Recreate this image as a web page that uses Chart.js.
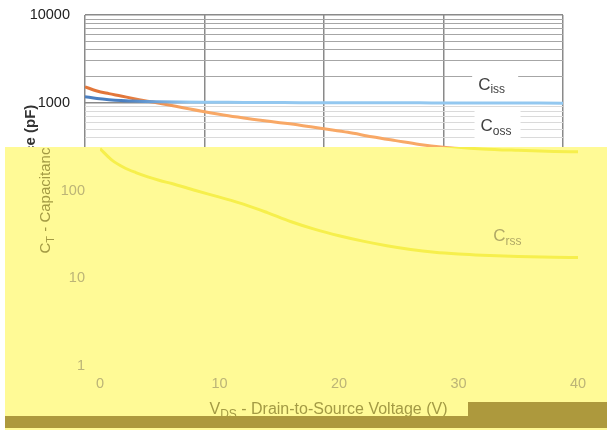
<!DOCTYPE html>
<html>
<head>
<meta charset="utf-8">
<script src="https://cdn.jsdelivr.net/npm/chart.js@4.4.1/dist/chart.umd.min.js"></script>
<style>
  body { margin: 0; width: 607px; height: 430px; overflow: hidden; position: relative; background: #fff; }
  #yellow { position: absolute; left: 5px; top: 147px; width: 602px; height: 283px; background: #fffa96; }
  #lowChart { position: absolute; left: 15px; top: 0; }
  #top { position: absolute; left: 0; top: 0; width: 607px; height: 147px; overflow: hidden; background: #fff; }
  .band { position: absolute; background: #ad993d; }
</style>
</head>
<body>
<div id="yellow"></div>
<canvas id="lowChart" width="607" height="430"></canvas>
<div id="top"><canvas id="topChart" width="607" height="430"></canvas></div>
<div class="band" style="left:5px;top:416px;width:602px;height:12px"></div>
<div class="band" style="left:468px;top:402px;width:139px;height:14px"></div>
<script>
// drain-source voltage (V) and capacitances (pF)
const voltage = [0, 1, 2, 3, 4, 5, 6, 8, 10, 12, 14, 16, 18, 20, 22, 24, 26, 28, 30, 32, 35, 38, 40];
const ciss = [1170, 1120, 1085, 1060, 1045, 1035, 1028, 1020, 1015, 1011, 1008, 1005, 1003, 1001, 1000, 999, 998, 997, 996, 995, 993, 991, 990];
const coss = [1520, 1360, 1270, 1195, 1120, 1055, 1000, 890, 790, 710, 650, 600, 555, 505, 460, 410, 370, 335, 312, 298, 287, 279, 276];
const crss = [300, 222, 183, 160, 143, 130, 120, 100, 84, 70, 56, 44, 36, 30.5, 26.5, 23.5, 21.3, 19.8, 18.9, 18.3, 17.7, 17.3, 17.2];

const yLabels = [1, 10, 100, 1000, 10000];
const xTicks = [0, 10, 20, 30, 40];
const seriesNames = [['C', 'iss'], ['C', 'oss'], ['C', 'rss']];
const labelAt = [[32.9, 1600], [33.1, 540], [32.9, 30]];

// gridlines at every 1..9 of each decade
const yGrid = [];
yLabels.slice(0, -1).forEach(d => { for (let m = 1; m < 10; m++) yGrid.push(d * m); });
yGrid.push(10000);

const FONT = 'Liberation Sans, Arial, sans-serif';

function fade(dark, light) {
  return ctx => {
    const a = ctx.chart.chartArea;
    if (!a) return light;
    const g = ctx.chart.ctx.createLinearGradient(a.left, 0, a.right, 0);
    g.addColorStop(0, dark);
    g.addColorStop(0.08, dark);
    g.addColorStop(0.22, light);
    g.addColorStop(1, light);
    return g;
  };
}

// text with subscripts: parts = [[text, isSub], ...]
function drawRich(ctx, parts, x, y, size, color, weight, align) {
  ctx.save();
  ctx.fillStyle = color;
  ctx.textBaseline = 'middle';
  ctx.textAlign = 'left';
  const fonts = parts.map(p => `${weight} ${p[1] ? Math.round(size * 0.72) : size}px ${FONT}`);
  let w = 0;
  parts.forEach((p, i) => { ctx.font = fonts[i]; w += ctx.measureText(p[0]).width; });
  let cx = align === 'center' ? x - w / 2 : x;
  parts.forEach((p, i) => {
    ctx.font = fonts[i];
    ctx.fillText(p[0], cx, p[1] ? y + size * 0.3 : y);
    cx += ctx.measureText(p[0]).width;
  });
  ctx.restore();
  return w;
}

function makeChart(id, look) {
  const textPlugin = {
    id: 'texts',
    beforeDatasetsDraw(chart) {
      if (!look.boxes) return;
      const { x, y } = chart.scales;
      const ctx = chart.ctx;
      ctx.save();
      ctx.fillStyle = '#fff';
      labelAt.slice(0, 2).forEach(p => {
        ctx.fillRect(x.getPixelForValue(p[0]) - 6, y.getPixelForValue(p[1]) - 18, 46, 36);
      });
      ctx.restore();
    },
    afterDraw(chart) {
      const { x, y } = chart.scales;
      const ctx = chart.ctx;
      const area = chart.chartArea;
      // axis titles
      ctx.save();
      ctx.translate(y.left + 31, (area.top + area.bottom) / 2 - 10);
      ctx.rotate(-Math.PI / 2);
      drawRich(ctx, [['C'], ['T', true], [' - Capacitance (pF)']], 0, 0, 15, look.title, look.titleWeight, 'center');
      ctx.restore();
      drawRich(ctx, [['V'], ['DS', true], [' - Drain-to-Source Voltage (V)']],
        chart.width / 2 + 10, x.bottom - 20, 16, look.title, 'normal', 'center');
      // curve names
      seriesNames.forEach((n, i) => {
        drawRich(ctx, [[n[0]], [n[1], true]], x.getPixelForValue(labelAt[i][0]),
          y.getPixelForValue(labelAt[i][1]), 17, look.label, 'normal', 'left');
      });
    }
  };

  const line = (label, data, color) => ({
    label, data, borderColor: color, borderWidth: 3, pointRadius: 0,
    cubicInterpolationMode: 'monotone', fill: false
  });

  return new Chart(document.getElementById(id), {
    type: 'line',
    data: {
      labels: voltage,
      datasets: [
        line('Ciss', voltage.map((v, i) => ({ x: v, y: ciss[i] })), look.ciss),
        line('Coss', voltage.map((v, i) => ({ x: v, y: coss[i] })), look.coss),
        line('Crss', voltage.map((v, i) => ({ x: v, y: crss[i] })), look.crss)
      ]
    },
    options: {
      responsive: false,
      animation: false,
      layout: { padding: { left: 0, right: 44, top: 15, bottom: 0 } },
      plugins: { legend: { display: false }, tooltip: { enabled: false } },
      scales: {
        x: {
          type: 'linear', min: 0, max: 40,
          afterBuildTicks: s => { s.ticks = xTicks.map(v => ({ value: v })); },
          afterFit: s => { s.height = 64; s.paddingLeft = 0; s.paddingRight = 0; },
          border: { display: false },
          grid: { display: look.grid, drawTicks: false, color: '#8a8a8a', lineWidth: 1.5 },
          ticks: { padding: 9, color: look.tick, font: { family: FONT, size: 14.5 } }
        },
        y: {
          type: 'logarithmic', min: 1, max: 10000,
          afterBuildTicks: s => { s.ticks = yGrid.map(v => ({ value: v })); },
          afterFit: s => { s.width = 85; s.paddingTop = 0; s.paddingBottom = 0; },
          border: { display: false },
          grid: {
            display: look.grid, drawTicks: false,
            color: c => yLabels.includes(c.tick.value) ? '#8a8a8a' : (c.tick.value > 1000 ? '#a6a6a6' : '#dadada'),
            lineWidth: c => yLabels.includes(c.tick.value) ? 1.5 : 1
          },
          ticks: {
            autoSkip: false, padding: 15, color: look.tick, font: { family: FONT, size: 14.5 },
            callback: v => yLabels.includes(v) ? String(v) : ''
          }
        }
      }
    },
    plugins: [textPlugin]
  });
}

// lower, yellow-washed copy (shifted right) and the clean upper copy
makeChart('lowChart', {
  grid: false, boxes: false,
  ciss: '#f6ef4c', coss: '#f6ef4c', crss: '#f6ef4c',
  tick: '#bcb477', title: '#a39a44', titleWeight: 'normal', label: '#b0a866'
});
makeChart('topChart', {
  grid: true, boxes: true,
  ciss: fade('#4a7fc1', '#93c8f0'), coss: fade('#e2763a', '#f8a866'), crss: '#a0a0a0',
  tick: '#222', title: '#333', titleWeight: 'bold', label: '#404040'
});
</script>
</body>
</html>
